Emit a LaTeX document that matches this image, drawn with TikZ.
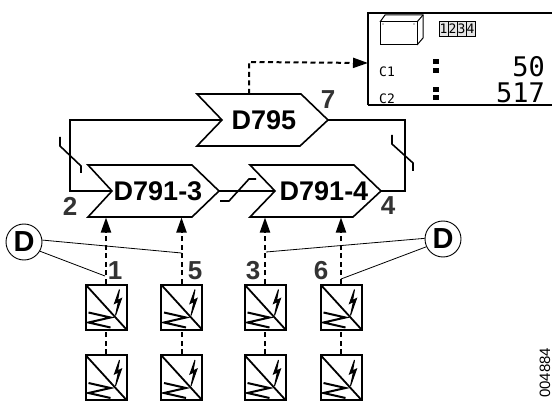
\documentclass[tikz,border=0pt]{standalone}
\usepackage{fontspec}
\setmainfont{Liberation Sans}
\newfontfamily\lcdfont{DejaVu Sans Mono}
\usetikzlibrary{arrows.meta}
\tikzset{
  linea/.style={line width=1.6pt,line join=miter},
  guia/.style={line width=0.8pt},
  bus/.style={line width=2pt,dash pattern=on 5pt off 3.5pt},
  flecha/.style={bus,-{Triangle[length=15pt,width=10pt]}},
  nombre/.style={font=\fontsize{27}{27}\selectfont\bfseries,inner sep=0pt},
  numero/.style={font=\fontsize{26}{26}\selectfont\bfseries,text=black!80,inner sep=0pt},
  marca/.style={draw,circle,line width=0.9pt,minimum size=36pt,inner sep=0pt,
    font=\fontsize{29}{29}\selectfont\bfseries},
  conv/.style={draw,line width=2pt,minimum width=41pt,minimum height=45pt,inner sep=0pt,
    path picture={
      \draw[line width=1.8pt] (-20.5,-22.5) -- (20.5,22.5);
      \draw[line width=2pt] (-17.5,5.5) -- (4.5,10.5) -- (-17.5,15.5) -- (4.5,20.5);
      \draw[line width=1pt,fill=black] (13.5,-17.5) -- (8.5,-3.5) -- (12.5,-5.5) -- (9.5,8.5)
        -- (15.5,-8.5) -- (11.5,-6.5) -- cycle;
    }},
  lcd/.style={font=\lcdfont\fontsize{#1}{#1}\selectfont,inner sep=0pt},
  celda/.style={draw,line width=0.8pt,fill=black!10,minimum width=9pt,minimum height=15pt,
    inner sep=0pt,font=\lcdfont\fontsize{13}{13}\selectfont},
}
\begin{document}
\begin{tikzpicture}[x=1pt,y=-1pt]
  \useasboundingbox (0,0) rectangle (552,401);
  % display
  \coordinate (dtl) at (368,13); \coordinate (dtr) at (552,13);
  \coordinate (dbl) at (368,105); \coordinate (dbr) at (552,105);
  \coordinate (dent) at (368,63);
  \draw[line width=2pt] (dtr) -- (dtl) -- (dbl);
  \draw[line width=1.6pt] (dbl) -- (dbr);
  \draw[line width=1pt] (380,22) rectangle (417,45);
  \draw[line width=1pt] (380,22) -- (385,15) -- (423,15) -- (423,38) -- (417,45);
  \draw[line width=1pt] (417,22) -- (423,15);
  \fill (383,24) circle (0.7pt); \fill (414,24) circle (0.7pt);
  \foreach \i/\cx in {1/443.5,2/452.5,3/461.5,4/470.5}
    \node[celda] (cel\i) at (\cx,28.5) {\i};
  \node[lcd=13,anchor=west] (c1) at (379,72) {C1};
  \node[lcd=13,anchor=west] (c2) at (379,99) {C2};
  \fill (433,59) rectangle (439,64); \fill (433,68) rectangle (439,73);
  \fill (433,87) rectangle (439,92); \fill (433,95) rectangle (439,100);
  \node[lcd=27,anchor=east] (v1) at (545,66.5) {50};
  \node[lcd=27,anchor=east] (v2) at (545,93) {517};
  % bloques
  \node[nombre] (d795) at (264,120) {D795};
  \node[nombre] (d3) at (158,191) {D791-3};
  \node[nombre] (d4) at (324,191) {D791-4};
  \coordinate (d795in) at (222,120); \coordinate (d795out) at (328,120);
  \coordinate (d3in) at (112,191); \coordinate (d3out) at (219,191);
  \coordinate (d4in) at (275,191); \coordinate (d4out) at (381,191);
  \draw[linea] (197,94) -- (d795in) -- (197,146) -- (300,146) -- (d795out) -- (301,94) -- cycle;
  \draw[linea] (88,165) -- (d3in) -- (88,217) -- (192,217) -- (d3out) -- (192,165) -- cycle;
  \draw[linea] (250,165) -- (d4in) -- (250,217) -- (353,217) -- (d4out) -- (354,165) -- cycle;
  % enlaces
  \coordinate (izq) at (70,120); \coordinate (der) at (405,120);
  \draw[linea] (d795in) -- (izq) |- (d3in);
  \draw[linea] (d795out) -- (der) |- (d4out);
  \draw[linea] (d3out) -- (d4in);
  \draw[linea] (60,137) -- (60,146) -- (81,166) -- (81,173);
  \draw[linea] (392,135) -- (392,144) -- (413,163) -- (413,171);
  \draw[linea] (220,201) -- (229,201) -- (249,179) -- (256,179);
  \coordinate (dsal) at (249,94); \coordinate (dcodo) at (249,62);
  \draw[flecha] (dsal) -- (dcodo) -- (dent);
  % convertidores
  \foreach \nm/\cx in {a/106,b/181.5,c/265,d/341} {
    \node[conv] (\nm1) at (\cx,307) {};
    \node[conv] (\nm2) at (\cx,377.5) {};
    \coordinate (\nm e) at (\cx,217.5);
    \draw[flecha] (\nm1.north) -- (\nm e);
    \draw[bus] (\nm2.north) -- (\nm1.south);
  }
  % numeros
  \node[numero] (n7) at (328,100) {7};
  \node[numero] (n2) at (70,206) {2};
  \node[numero] (n4) at (388,206) {4};
  \node[numero] (n1) at (115,271) {1};
  \node[numero] (n5) at (195,271) {5};
  \node[numero] (n3) at (253,271) {3};
  \node[numero] (n6) at (321,271) {6};
  % marcas D
  \node[marca] (mi) at (24,242) {D};
  \node[marca] (md) at (443,239) {D};
  \coordinate (gi1) at (181.5,253); \coordinate (gi2) at (105,276);
  \coordinate (gd1) at (266,252); \coordinate (gd2) at (341,279);
  \draw[guia] (mi.6) -- (gi1);
  \draw[guia] (mi.-30) -- (gi2);
  \draw[guia] (md.178) -- (gd1);
  \draw[guia] (md.205) -- (gd2);
  \node[rotate=90,anchor=west,inner sep=0pt,font=\fontsize{15}{15}\selectfont] (ref) at (545,398) {004884};
\end{tikzpicture}
\end{document}
